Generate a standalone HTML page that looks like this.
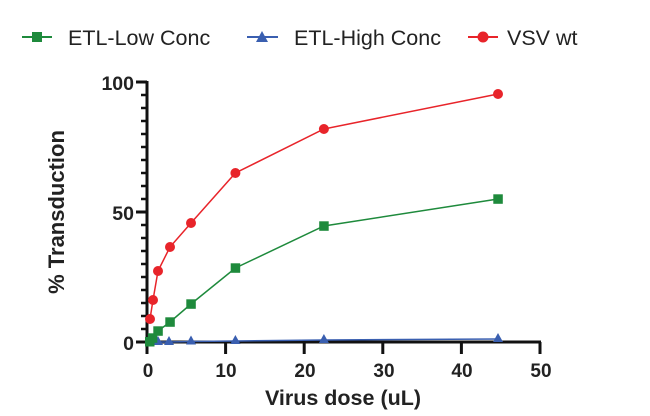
<!DOCTYPE html>
<html><head><meta charset="utf-8"><style>
html,body{margin:0;padding:0;background:#fff;}
svg{display:block;font-family:"Liberation Sans",Arial,sans-serif;}
</style></head><body>
<svg width="650" height="416" viewBox="0 0 650 416" xmlns="http://www.w3.org/2000/svg">
<rect width="650" height="416" fill="#fff"/>
<!-- legend -->
<line x1="22" y1="37" x2="52" y2="37" stroke="#1e8a3c" stroke-width="2"/>
<rect x="32" y="32" width="10" height="10" fill="#1e8a3c"/>
<text x="68" y="45" font-size="21.5" fill="#222">ETL-Low Conc</text>
<line x1="247" y1="37" x2="278" y2="37" stroke="#3a5fb0" stroke-width="2"/>
<polygon points="262,31 268,42 256,42" fill="#3a5fb0"/>
<text x="294" y="45" font-size="21.5" fill="#222">ETL-High Conc</text>
<line x1="468" y1="37" x2="498" y2="37" stroke="#e8242a" stroke-width="2"/>
<circle cx="483" cy="37" r="5.5" fill="#e8242a"/>
<text x="507" y="45" font-size="21.5" fill="#222">VSV wt</text>
<!-- axes -->
<g stroke="#111" stroke-width="3">
<line x1="147" y1="81" x2="147" y2="343"/>
<line x1="146" y1="342" x2="541" y2="342"/>
<line x1="136" y1="82" x2="147" y2="82"/>
<line x1="136" y1="212" x2="147" y2="212"/>
<line x1="136" y1="342" x2="147" y2="342"/>
</g>
<g stroke="#111" stroke-width="2.5">
<line x1="141" y1="95" x2="147" y2="95"/><line x1="141" y1="108" x2="147" y2="108"/>
<line x1="141" y1="121" x2="147" y2="121"/><line x1="141" y1="134" x2="147" y2="134"/>
<line x1="141" y1="147" x2="147" y2="147"/><line x1="141" y1="160" x2="147" y2="160"/>
<line x1="141" y1="173" x2="147" y2="173"/><line x1="141" y1="186" x2="147" y2="186"/>
<line x1="141" y1="199" x2="147" y2="199"/>
<line x1="141" y1="225" x2="147" y2="225"/><line x1="141" y1="238" x2="147" y2="238"/>
<line x1="141" y1="251" x2="147" y2="251"/><line x1="141" y1="264" x2="147" y2="264"/>
<line x1="141" y1="277" x2="147" y2="277"/><line x1="141" y1="290" x2="147" y2="290"/>
<line x1="141" y1="303" x2="147" y2="303"/><line x1="141" y1="316" x2="147" y2="316"/>
<line x1="141" y1="329" x2="147" y2="329"/>
</g>
<g stroke="#111" stroke-width="3">
<line x1="147" y1="342" x2="147" y2="354"/><line x1="225.6" y1="342" x2="225.6" y2="354"/>
<line x1="304.2" y1="342" x2="304.2" y2="354"/><line x1="382.8" y1="342" x2="382.8" y2="354"/>
<line x1="461.4" y1="342" x2="461.4" y2="354"/><line x1="540" y1="342" x2="540" y2="354"/>
</g>
<g font-size="19.5" font-weight="bold" fill="#222" text-anchor="end">
<text x="134" y="90">100</text><text x="134" y="220">50</text><text x="134" y="350">0</text>
</g>
<g font-size="19" font-weight="bold" fill="#222" text-anchor="middle">
<text x="148" y="377">0</text><text x="226" y="377">10</text><text x="305" y="377">20</text>
<text x="384" y="377">30</text><text x="462" y="377">40</text><text x="541" y="377">50</text>
</g>
<text x="343" y="405" font-size="21.5" font-weight="bold" fill="#222" text-anchor="middle">Virus dose (uL)</text>
<text transform="translate(64,212) rotate(-90)" font-size="22" font-weight="bold" fill="#222" text-anchor="middle">% Transduction</text>
<!-- blue -->
<polyline fill="none" stroke="#3a5fb0" stroke-width="1.5" points="150,342 152.5,342 158,342 169,342 191,341.5 235.4,341 323.9,340 498,339"/>
<g fill="#3a5fb0">
<polygon points="150,336 155,345 145,345"/><polygon points="158,336 163,345 153,345"/>
<polygon points="169,336 174,345 164,345"/><polygon points="191,335.5 196,344.5 186,344.5"/>
<polygon points="235.4,335 240.4,344 230.4,344"/><polygon points="323.9,334 328.9,343 318.9,343"/>
<polygon points="498,333 503,342 493,342"/>
</g>
<!-- green -->
<polyline fill="none" stroke="#1e8a3c" stroke-width="1.5" points="149.8,342 152.5,338 158,331 170,322 191,304 235.4,268 323.9,226 498,199"/>
<g fill="#1e8a3c">
<rect x="145" y="337" width="9.5" height="9.5"/><rect x="147.8" y="333.3" width="9.5" height="9.5"/>
<rect x="153.3" y="326.3" width="9.5" height="9.5"/><rect x="165.3" y="317.3" width="9.5" height="9.5"/>
<rect x="186.3" y="299.3" width="9.5" height="9.5"/><rect x="230.7" y="263.3" width="9.5" height="9.5"/>
<rect x="319.2" y="221.3" width="9.5" height="9.5"/><rect x="493.3" y="194.3" width="9.5" height="9.5"/>
</g>
<!-- red -->
<polyline fill="none" stroke="#e8242a" stroke-width="1.5" points="150,319 153,300 158,271 170,247 191,223 235.4,173 323.9,129 498,94"/>
<g fill="#e8242a">
<circle cx="150" cy="319" r="5"/><circle cx="153" cy="300" r="5"/><circle cx="158" cy="271" r="5"/>
<circle cx="170" cy="247" r="5"/><circle cx="191" cy="223" r="5"/><circle cx="235.4" cy="173" r="5"/>
<circle cx="323.9" cy="129" r="5"/><circle cx="498" cy="94" r="5"/>
</g>
</svg>
</body></html>
